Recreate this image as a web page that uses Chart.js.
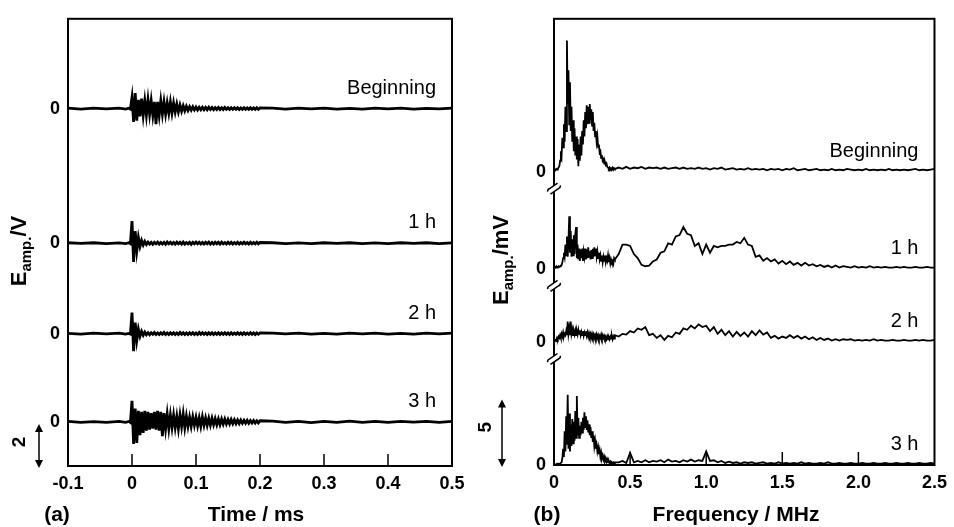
<!DOCTYPE html>
<html>
<head>
<meta charset="utf-8">
<script src="https://cdn.jsdelivr.net/npm/chart.js@4.4.1/dist/chart.umd.min.js"></script>
<style>
html, body { margin: 0; padding: 0; background: #fff; }
#wrap { position: relative; width: 954px; height: 527px; }
canvas { position: absolute; top: 0; }
</style>
</head>
<body>
<div id="wrap">
  <canvas id="chartA" width="477" height="527" style="left:0"></canvas>
  <canvas id="chartB" width="477" height="527" style="left:477px"></canvas>
</div>
<script>
// ---- data ----
var seriesNames = ['Beginning', '1 h', '2 h', '3 h'];

var timeTickValues = [-0.1, 0, 0.1, 0.2, 0.3, 0.4, 0.5];
var timeTickLabels = ['-0.1', '0', '0.1', '0.2', '0.3', '0.4', '0.5'];
var freqTickValues = [0, 0.5, 1.0, 1.5, 2.0, 2.5];
var freqTickLabels = ['0', '0.5', '1.0', '1.5', '2.0', '2.5'];

// vertical offsets of the stacked traces
var waveOffsets = [14.2, 8.1, 4.0, 0];   // V
var specOffsets = [21.7, 14.5, 9.1, 0];  // mV

// (a) waveforms, V. pre-trigger and tail are sparse, the burst is sampled every 2.5 us
var timePre = [-0.1, -0.08, -0.06, -0.04, -0.02, -0.01, -0.005, -0.0025];
var burstStep = 0.0025;
var timePost = [0.22, 0.24, 0.26, 0.28, 0.30, 0.32, 0.34, 0.36, 0.38, 0.40, 0.42, 0.44, 0.46, 0.48, 0.50];

var begPre = [0.02, -0.02, 0.02, -0.01, 0.02, -0.02, 0.02, -0.02];
var begBurst = [0.5, -0.6, 0.7, -0.55, 0.4, -0.35, 0.45, -0.3, 0.35, -0.3,
  0.4, -0.25, 0.35, -0.3, 0.3, -0.7, 0.3, -0.3, 0.35, -0.25,
  0.3, -0.25, 0.25, -0.2, 0.3, -0.2, 0.25, -0.15, 0.2, -0.15,
  0.15, -0.12, 0.12, -0.1, 0.1, -0.08, 0.08, -0.07, 0.08, -0.06,
  0.07, -0.06, 0.06, -0.05, 0.06, -0.05, 0.05, -0.05, 0.06, -0.04,
  0.05, -0.05, 0.04, -0.04, 0.05, -0.04, 0.04, -0.04, 0.05, -0.03,
  0.04, -0.04, 0.04, -0.03, 0.04, -0.03, 0.04, -0.04, 0.03, -0.03,
  0.04, -0.03, 0.03, -0.03, 0.04, -0.03, 0.03, -0.03, 0.04, -0.03,
  0.03];
var begPost = [0.02, -0.02, 0.02, -0.01, 0.02, -0.02, 0.01, -0.02, 0.02, -0.01, 0.02, -0.02, 0.01, -0.01, 0.02];

var h1Pre = [0.02, -0.01, 0.02, -0.02, 0.01, -0.02, 0.02, -0.02];
var h1Burst = [1.0, -0.85, 0.55, -0.35, 0.25, -0.15, 0.12, -0.08, 0.08, -0.06,
  0.05, -0.04, 0.04, -0.05, 0.04, -0.03, 0.05, -0.04, 0.03, -0.04,
  0.04, -0.05, 0.05, -0.03, 0.04, -0.04, 0.03, -0.04, 0.05, -0.03,
  0.04, -0.04, 0.05, -0.04, 0.03, -0.03, 0.04, -0.05, 0.04, -0.03,
  0.05, -0.03, 0.04, -0.04, 0.03, -0.04, 0.04, -0.03, 0.05, -0.04,
  0.03, -0.04, 0.04, -0.03, 0.04, -0.04, 0.05, -0.03, 0.03, -0.04,
  0.04, -0.03, 0.04, -0.04, 0.03, -0.03, 0.04, -0.04, 0.03, -0.03,
  0.04, -0.03, 0.03, -0.04, 0.04, -0.03, 0.03, -0.03, 0.04, -0.03,
  0.03];
var h1Post = [0.02, -0.02, 0.01, -0.02, 0.02, -0.01, 0.02, -0.02, 0.01, -0.02, 0.02, -0.01, 0.02, -0.02, 0.01];

var h2Pre = [0.01, -0.02, 0.02, -0.01, 0.02, -0.02, 0.01, -0.02];
var h2Burst = [0.95, -0.8, 0.5, -0.3, 0.2, -0.12, 0.1, -0.07, 0.07, -0.05,
  0.04, -0.05, 0.04, -0.03, 0.05, -0.04, 0.03, -0.04, 0.04, -0.03,
  0.05, -0.04, 0.03, -0.04, 0.04, -0.03, 0.04, -0.04, 0.03, -0.04,
  0.05, -0.03, 0.04, -0.04, 0.03, -0.04, 0.04, -0.03, 0.04, -0.04,
  0.03, -0.04, 0.05, -0.03, 0.04, -0.03, 0.03, -0.04, 0.04, -0.03,
  0.04, -0.04, 0.03, -0.03, 0.04, -0.04, 0.03, -0.03, 0.04, -0.03,
  0.03, -0.04, 0.04, -0.03, 0.03, -0.03, 0.04, -0.03, 0.03, -0.04,
  0.04, -0.03, 0.03, -0.03, 0.04, -0.03, 0.03, -0.04, 0.03, -0.03,
  0.03];
var h2Post = [0.02, -0.01, 0.02, -0.02, 0.01, -0.02, 0.02, -0.01, 0.02, -0.02, 0.01, -0.02, 0.02, -0.01, 0.02];

var h3Pre = [0.02, -0.02, 0.01, -0.02, 0.02, -0.02, 0.02, -0.03];
var h3Burst = [0.95, -1.0, 0.6, -0.95, 0.5, -0.6, 0.45, -0.5, 0.5, -0.4,
  0.45, -0.35, 0.4, -0.3, 0.45, -0.35, 0.5, -0.4, 0.45, -0.65,
  0.4, -0.3, 0.35, -0.3, 0.3, -0.25, 0.3, -0.25, 0.25, -0.3,
  0.3, -0.2, 0.35, -0.25, 0.25, -0.2, 0.2, -0.2, 0.22, -0.15,
  0.2, -0.18, 0.18, -0.2, 0.22, -0.15, 0.18, -0.15, 0.16, -0.14,
  0.16, -0.12, 0.14, -0.12, 0.13, -0.12, 0.12, -0.1, 0.12, -0.09,
  0.1, -0.09, 0.1, -0.08, 0.09, -0.08, 0.08, -0.07, 0.08, -0.06,
  0.07, -0.06, 0.07, -0.06, 0.06, -0.05, 0.06, -0.05, 0.05, -0.05,
  0.05];
var h3Post = [0.03, -0.02, 0.02, -0.03, 0.02, -0.02, 0.03, -0.02, 0.02, -0.02, 0.02, -0.01, 0.02, -0.02, 0.02];

// (b) spectra, mV. 5 kHz steps up to 0.4 MHz, 25 kHz steps from 0.425 MHz
var freqStepLow = 0.005;
var freqStartHigh = 0.425;
var freqStepHigh = 0.025;

var begSpecLow = [0.1, 0.15, 0.1, 0.2, 0.15, 0.2, 0.3, 0.4,
  0.8, 1.5, 1.2, 2.5, 1.8, 3.5, 2.2, 4.8, 3.0,
  9.7, 5.0, 7.5, 3.5, 6.6, 3.0, 4.8, 2.2, 3.8,
  1.5, 3.2, 1.2, 2.6, 0.9, 2.4, 0.4, 2.0, 0.8, 2.6,
  1.2, 3.0, 2.0, 3.8, 2.6, 4.4, 3.2, 4.9, 3.5, 4.8,
  3.6, 5.0, 3.8, 4.6, 3.4, 4.4, 3.0, 3.6, 2.6, 3.0,
  2.2, 2.6, 1.8, 2.0, 1.4, 1.5, 1.0, 1.2, 0.8, 0.9,
  0.6, 0.7, 0.5, 0.6, 0.35,
  0.3, 0.2, 0.3, 0.15, 0.25, 0.2, 0.3, 0.15, 0.25, 0.2];
var begSpecHigh = [0.3, 0.2, 0.35, 0.2, 0.3, 0.25, 0.35, 0.2, 0.3, 0.25,
  0.3, 0.2, 0.3, 0.2, 0.25, 0.3, 0.2, 0.3, 0.2, 0.25,
  0.2, 0.3, 0.2, 0.25, 0.15, 0.25, 0.2, 0.3, 0.15, 0.2,
  0.25, 0.15, 0.2, 0.15, 0.25, 0.15, 0.2, 0.15, 0.2, 0.1,
  0.2, 0.15, 0.2, 0.1, 0.2, 0.15, 0.25, 0.1, 0.15, 0.2,
  0.1, 0.15, 0.2, 0.1, 0.15, 0.1, 0.2, 0.1, 0.15, 0.1,
  0.2, 0.15, 0.1, 0.15, 0.1, 0.2, 0.1, 0.15, 0.1, 0.15,
  0.1, 0.2, 0.1, 0.15, 0.1, 0.15, 0.1, 0.15, 0.2, 0.1,
  0.15, 0.1, 0.15, 0.2];

var h1SpecLow = [0.1, 0.15, 0.1, 0.2, 0.1, 0.15, 0.2, 0.15, 0.2, 0.25, 0.3, 0.5,
  0.8, 1.2, 0.9, 1.8, 1.0, 2.4, 0.9, 2.0, 3.9, 1.2,
  2.8, 0.9, 2.2, 1.0, 2.5, 1.1, 2.6, 3.1, 0.8, 1.8,
  0.7, 1.5, 0.6, 1.4, 0.8, 1.5, 0.6, 1.3, 0.9, 1.5,
  0.7, 1.4, 0.8, 1.6, 0.9, 1.3, 0.7, 1.4, 0.8, 1.5,
  0.9, 1.6, 1.0, 1.5, 0.9, 1.3, 0.8, 1.2, 0.7, 1.0,
  0.6, 1.0, 0.5, 0.9, 0.6, 1.0, 0.5, 0.8, 0.6, 1.0,
  0.5, 0.8, 0.4, 0.7, 0.5, 0.6, 0.4, 0.8, 0.7];
var h1SpecHigh = [1.1, 1.8, 1.8, 1.7, 1.1, 0.8, 0.3, 0.2, 0.25, 0.55,
  0.7, 1.2, 1.3, 1.9, 1.8, 2.4, 2.5, 3.1, 2.6, 2.5,
  1.7, 1.9, 1.1, 1.8, 1.2, 1.7, 1.6, 1.7, 1.7, 1.8,
  1.8, 2.0, 1.9, 2.3, 1.8, 1.7, 0.9, 1.0, 0.6, 0.8,
  0.55, 0.7, 0.4, 0.6, 0.35, 0.55, 0.3, 0.45, 0.25, 0.45,
  0.25, 0.35, 0.2, 0.3, 0.15, 0.25, 0.1, 0.25, 0.1, 0.2,
  0.15, 0.1, 0.2, 0.1, 0.15, 0.1, 0.2, 0.1, 0.15, 0.1,
  0.15, 0.1, 0.1, 0.15, 0.1, 0.15, 0.1, 0.1, 0.15, 0.1,
  0.1, 0.15, 0.1, 0.1];

var h2SpecLow = [0.05, 0.1, 0.15, 0.1, 0.3, 0.2, 0.4, 0.3,
  0.5, 0.3, 0.6, 0.4, 0.7, 0.4, 0.6, 0.5, 0.8, 0.5,
  1.5, 0.6, 1.0, 0.5, 1.5, 0.6, 0.9, 0.5, 0.8, 0.55,
  0.85, 0.5, 0.8, 0.55, 0.9, 0.6, 0.85, 0.5, 0.75, 0.5,
  0.8, 0.45, 0.7, 0.5, 0.8, 0.45, 0.7, 0.4, 0.65, 0.4,
  0.6, 0.35, 0.6, 0.35, 0.55, 0.3, 0.5, 0.3, 0.55, 0.3,
  0.5, 0.25, 0.45, 0.3, 0.55, 0.3, 0.5, 0.3, 0.45, 0.25,
  0.4, 0.2, 0.4, 0.2, 0.35, 0.2, 0.4, 0.25, 0.45, 0.2,
  0.4, 0.25, 0.5];
var h2SpecHigh = [0.4, 0.6, 0.55, 0.8, 0.7, 1.0, 0.9, 1.1, 0.5, 0.6,
  0.3, 0.5, 0.15, 0.45, 0.35, 0.7, 0.6, 1.0, 0.9, 1.2,
  1.0, 1.3, 1.1, 1.2, 0.8, 1.1, 0.6, 0.9, 0.5, 0.8,
  0.4, 0.75, 0.45, 0.7, 0.4, 0.8, 0.5, 0.85, 0.55, 0.7,
  0.3, 0.45, 0.25, 0.4, 0.3, 0.5, 0.3, 0.45, 0.25, 0.4,
  0.2, 0.35, 0.15, 0.3, 0.15, 0.25, 0.1, 0.2, 0.1, 0.2,
  0.15, 0.2, 0.1, 0.15, 0.1, 0.15, 0.1, 0.2, 0.1, 0.15,
  0.1, 0.1, 0.15, 0.1, 0.1, 0.15, 0.1, 0.1, 0.15, 0.1,
  0.15, 0.1, 0.1, 0.15];

var h3SpecLow = [0, 0.05, 0, 0.05, 0.1, 0.05, 0.1, 0.05, 0.1, 0.1, 0.2,
  0.5, 1.2, 0.6, 2.5, 1.0, 3.6, 1.5, 5.2, 1.2,
  3.8, 1.0, 3.0, 1.4, 3.4, 1.6, 3.2, 1.8, 4.0, 2.0,
  5.1, 2.2, 3.5, 2.0, 2.9, 2.2, 3.2, 2.4, 3.5, 2.6,
  3.9, 2.8, 3.6, 2.6, 3.3, 2.4, 3.0, 2.2, 2.8, 2.0,
  2.5, 1.7, 2.2, 1.4, 1.8, 1.2, 1.5, 1.0, 1.3, 0.8,
  1.1, 0.6, 0.9, 0.5, 0.7, 0.4, 0.6, 0.3, 0.5, 0.25,
  0.4, 0.2, 0.3, 0.15, 0.25, 0.1, 0.2, 0.15, 0.2, 0.1,
  0.2];
var h3SpecHigh = [0.2, 0.3, 0.15, 0.9, 0.2, 0.3, 0.2, 0.35, 0.2, 0.3,
  0.25, 0.35, 0.2, 0.4, 0.25, 0.3, 0.2, 0.35, 0.25, 0.4,
  0.25, 0.35, 0.3, 1.0, 0.3, 0.35, 0.2, 0.3, 0.15, 0.25,
  0.15, 0.2, 0.1, 0.2, 0.15, 0.2, 0.1, 0.15, 0.2, 0.1,
  0.15, 0.1, 0.2, 0.1, 0.15, 0.1, 0.15, 0.1, 0.2, 0.1,
  0.15, 0.1, 0.1, 0.15, 0.1, 0.2, 0.1, 0.1, 0.15, 0.1,
  0.1, 0.15, 0.1, 0.1, 0.15, 0.1, 0.1, 0.15, 0.1, 0.1,
  0.15, 0.1, 0.1, 0.15, 0.1, 0.1, 0.15, 0.1, 0.1, 0.15,
  0.1, 0.1, 0.15, 0.1];

// ---- chart building ----
var FONT = '"Liberation Sans", Arial, Helvetica, sans-serif';
Chart.defaults.font.family = FONT;
Chart.defaults.color = '#000';

function waveSeries(pre, burst, post, off) {
    var pts = [];
    pre.forEach(function (v, i) { pts.push({ x: timePre[i], y: off + v }); });
    burst.forEach(function (v, i) { pts.push({ x: i * burstStep, y: off + v }); });
    post.forEach(function (v, i) { pts.push({ x: timePost[i], y: off + v }); });
    return pts;
}

function specSeries(low, high, off) {
    var pts = [];
    low.forEach(function (v, i) { pts.push({ x: i * freqStepLow, y: off + v }); });
    high.forEach(function (v, i) { pts.push({ x: freqStartHigh + i * freqStepHigh, y: off + v }); });
    return pts;
}

function drawArrow(ctx, x, y1, y2) {
    ctx.lineWidth = 1.5;
    ctx.beginPath();
    ctx.moveTo(x, y1 + 4);
    ctx.lineTo(x, y2 - 4);
    ctx.stroke();
    ctx.beginPath();
    ctx.moveTo(x, y1); ctx.lineTo(x - 4, y1 + 8); ctx.lineTo(x + 4, y1 + 8); ctx.closePath();
    ctx.moveTo(x, y2); ctx.lineTo(x - 4, y2 - 8); ctx.lineTo(x + 4, y2 - 8); ctx.closePath();
    ctx.fill();
}

function rotatedText(ctx, txt, x, y, font) {
    ctx.save();
    ctx.translate(x, y);
    ctx.rotate(-Math.PI / 2);
    ctx.font = font;
    ctx.textAlign = 'center';
    ctx.textBaseline = 'middle';
    ctx.fillText(txt, 0, 0);
    ctx.restore();
}

function drawYTitle(ctx, cx, cy, unit) {
    var big = 'bold 22px ' + FONT, small = 'bold 15px ' + FONT;
    ctx.save();
    ctx.translate(cx, cy);
    ctx.rotate(-Math.PI / 2);
    ctx.textAlign = 'left';
    ctx.textBaseline = 'alphabetic';
    ctx.font = big;
    var wE = ctx.measureText('E').width, wU = ctx.measureText(unit).width;
    ctx.font = small;
    var wS = ctx.measureText('amp.').width;
    var u = -(wE + wS + wU) / 2, base = 8;
    ctx.font = big; ctx.fillText('E', u, base); u += wE;
    ctx.font = small; ctx.fillText('amp.', u, base + 5); u += wS;
    ctx.font = big; ctx.fillText(unit, u, base);
    ctx.restore();
}

// little squiggle where the spectrum axis is broken
function drawBreak(ctx, x, y) {
    ctx.save();
    ctx.translate(x, y);
    ctx.rotate(-0.6);
    ctx.fillStyle = '#fff';
    ctx.fillRect(-6, -2.5, 12, 5);
    ctx.lineWidth = 1.5;
    ctx.beginPath();
    ctx.moveTo(-7, -1); ctx.quadraticCurveTo(-6, -3, -4, -2.5); ctx.lineTo(6, -2.5);
    ctx.moveTo(-6, 2.5); ctx.lineTo(4, 2.5); ctx.quadraticCurveTo(6, 3, 7, 1);
    ctx.stroke();
    ctx.restore();
}

var panelDecor = {
    id: 'panelDecor',
    afterDraw: function (chart, args, o) {
        var ctx = chart.ctx, a = chart.chartArea;
        var xs = chart.scales.x, ys = chart.scales.y;
        ctx.save();
        ctx.strokeStyle = '#000';
        ctx.fillStyle = '#000';
        ctx.lineWidth = 2;
        ctx.strokeRect(a.left, a.top, a.right - a.left, a.bottom - a.top);

        // ticks pointing into the plot
        ctx.lineWidth = 1.5;
        o.innerTicks.forEach(function (v) {
            var px = xs.getPixelForValue(v);
            ctx.beginPath();
            ctx.moveTo(px, a.bottom);
            ctx.lineTo(px, a.bottom - o.tickLen);
            ctx.stroke();
        });

        if (o.breaks) {
            o.offsets.slice(0, -1).forEach(function (off) {
                drawBreak(ctx, a.left, ys.getPixelForValue(off) + 17);
            });
        }

        ctx.font = '20px ' + FONT;
        ctx.textAlign = 'right';
        ctx.textBaseline = 'alphabetic';
        o.offsets.forEach(function (off, i) {
            ctx.fillText(seriesNames[i], a.right - 16, ys.getPixelForValue(off) - 15);
        });

        var b = o.bar;
        var y1 = ys.getPixelForValue(b.from) + 2, y2 = ys.getPixelForValue(b.to) + 2;
        drawArrow(ctx, b.x, y1, y2);
        rotatedText(ctx, b.label, b.labelX, (y1 + y2) / 2 + b.labelDy, 'bold 19px ' + FONT);

        drawYTitle(ctx, o.yTitle.x, o.yTitle.y, o.yTitle.unit);

        ctx.font = 'bold 21px ' + FONT;
        ctx.textAlign = 'center';
        ctx.textBaseline = 'middle';
        ctx.fillText(o.xTitle.text, o.xTitle.x, 515);
        ctx.fillText(o.letter.text, o.letter.x, 515);
        ctx.restore();
    }
};

function makeChart(id, datasets, xMin, xMax, yMin, yMax, tickVals, tickLabels, yTicks, axisW, padRight, xH, decor, lw) {
    return new Chart(document.getElementById(id).getContext('2d'), {
        type: 'line',
        data: { datasets: datasets },
        plugins: [panelDecor],
        options: {
            responsive: false,
            animation: false,
            events: [],
            layout: { padding: { left: 0, right: padRight, top: 10, bottom: 0 } },
            elements: {
                line: { borderColor: '#000', borderWidth: lw, tension: 0 },
                point: { radius: 0 }
            },
            scales: {
                x: {
                    type: 'linear',
                    min: xMin,
                    max: xMax,
                    afterBuildTicks: function (s) { s.ticks = tickVals.map(function (v) { return { value: v }; }); },
                    afterFit: function (s) { s.height = xH; },
                    grid: { display: false, drawTicks: false },
                    border: { display: false },
                    ticks: {
                        autoSkip: false,
                        maxRotation: 0,
                        padding: 7,
                        color: '#000',
                        font: { size: 18, weight: 'bold' },
                        callback: function (v, i) { return tickLabels[i]; }
                    }
                },
                y: {
                    min: yMin,
                    max: yMax,
                    afterBuildTicks: function (s) { s.ticks = yTicks.map(function (v) { return { value: v }; }); },
                    afterFit: function (s) { s.width = axisW; },
                    grid: { display: false, drawTicks: false },
                    border: { display: false },
                    ticks: {
                        autoSkip: false,
                        padding: 8,
                        color: '#000',
                        font: { size: 18, weight: 'bold' },
                        callback: function () { return '0'; }
                    }
                }
            },
            plugins: {
                legend: { display: false },
                tooltip: { enabled: false },
                panelDecor: decor
            }
        }
    });
}

var waveSets = [
    waveSeries(begPre, begBurst, begPost, waveOffsets[0]),
    waveSeries(h1Pre, h1Burst, h1Post, waveOffsets[1]),
    waveSeries(h2Pre, h2Burst, h2Post, waveOffsets[2]),
    waveSeries(h3Pre, h3Burst, h3Post, waveOffsets[3])
].map(function (d, i) { return { label: seriesNames[i], data: d }; });

var specSets = [
    specSeries(begSpecLow, begSpecHigh, specOffsets[0]),
    specSeries(h1SpecLow, h1SpecHigh, specOffsets[1]),
    specSeries(h2SpecLow, h2SpecHigh, specOffsets[2]),
    specSeries(h3SpecLow, h3SpecHigh, specOffsets[3])
].map(function (d, i) { return { label: seriesNames[i], data: d }; });

makeChart('chartA', waveSets, -0.1, 0.5, -2, 18.27, timeTickValues, timeTickLabels, waveOffsets, 68, 25, 61, {
    innerTicks: [0, 0.1, 0.2, 0.3, 0.4],
    tickLen: 12,
    offsets: waveOffsets,
    breaks: false,
    bar: { x: 39, from: 0, to: -2, label: '2', labelX: 20, labelDy: -4 },
    yTitle: { x: 18, y: 251, unit: '/V' },
    xTitle: { text: 'Time / ms', x: 256 },
    letter: { text: '(a)', x: 57 }
}, 2.8);

makeChart('chartB', specSets, 0, 2.5, 0, 33, freqTickValues, freqTickLabels, specOffsets, 77, 16, 62, {
    innerTicks: [0.5, 1.0, 1.5, 2.0],
    tickLen: 13,
    offsets: specOffsets,
    breaks: true,
    bar: { x: 25, from: 5, to: 0, label: '5', labelX: 9, labelDy: -6 },
    yTitle: { x: 23, y: 260, unit: '/mV' },
    xTitle: { text: 'Frequency / MHz', x: 259 },
    letter: { text: '(b)', x: 70 }
}, 1.8);
</script>
</body>
</html>
